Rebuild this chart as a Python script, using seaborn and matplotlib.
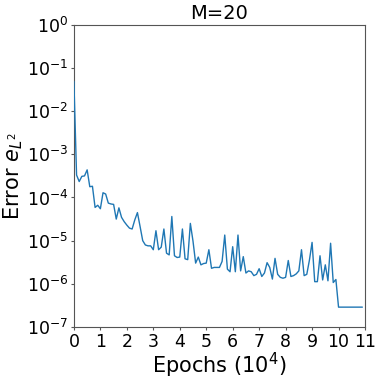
import numpy as np
import pandas as pd
import matplotlib
matplotlib.use("Agg")
import matplotlib.pyplot as plt
import seaborn as sns
from matplotlib.ticker import LogLocator, NullLocator

epochs = [round(0.1 * i, 1) for i in range(110)]
log_err = [
    -1.31, -3.48, -3.63, -3.51, -3.50, -3.36, -3.75, -3.74, -4.23, -4.18,
    -4.26, -3.89, -3.92, -4.13, -4.15, -4.16, -4.50, -4.24, -4.46, -4.56,
    -4.64, -4.71, -4.73, -4.52, -4.35, -4.67, -5.00, -5.10, -5.12, -5.12,
    -5.21, -4.77, -5.21, -5.15, -4.73, -5.29, -5.33, -4.44, -5.35, -5.39,
    -5.38, -4.73, -5.42, -5.44, -4.60, -5.01, -5.52, -5.38, -5.56, -5.53,
    -5.52, -5.21, -5.64, -5.62, -5.62, -5.62, -5.48, -4.87, -5.66, -5.72,
    -5.14, -5.72, -4.87, -5.70, -5.37, -5.75, -5.70, -5.72, -5.81, -5.78,
    -5.65, -5.83, -5.75, -5.51, -5.62, -5.89, -5.41, -5.78, -5.85, -5.87,
    -5.85, -5.46, -5.83, -5.81, -5.77, -5.70, -5.21, -5.81, -5.78, -5.45,
    -5.04, -5.95, -5.95, -5.35, -5.91, -5.56, -5.93, -5.06, -5.97, -5.90,
    -6.54, -6.54, -6.54, -6.54, -6.54, -6.54, -6.54, -6.54, -6.54, -6.54,
]
error = [10 ** v for v in log_err]
xticks = list(range(12))

sns.set_theme(style="ticks")
plt.rcParams['font.family'] = ['DejaVu Sans']
plt.rcParams['text.color'] = 'black'
plt.rcParams['axes.labelcolor'] = 'black'
plt.rcParams['xtick.color'] = 'black'
plt.rcParams['ytick.color'] = 'black'

df = pd.DataFrame({"epoch": epochs, "error": error})

fig = plt.figure(figsize=(3.81, 3.82), dpi=100)
ax = fig.add_axes([0.194, 0.144, 0.764, 0.791])
sns.lineplot(data=df, x="epoch", y="error", ax=ax, color="#1f77b4", linewidth=1.0, zorder=3)
ax.set_yscale("log")
ax.set_xlim(0, 11)
ax.set_ylim(1e-7, 1e0)
ax.set_xticks(xticks)
ax.set_xticklabels([str(t) for t in xticks])
ax.yaxis.set_major_locator(LogLocator(base=10, numticks=10))
ax.yaxis.set_minor_locator(NullLocator())
ax.tick_params(axis="both", labelsize=12.5, length=2.5, width=0.8, pad=1.5)
ax.tick_params(axis="both", color="#555555")
for s in ax.spines.values():
    s.set_color("#555555")
    s.set_linewidth(0.8)
ax.set_xlabel("Epochs ($10^4$)", fontsize=15, labelpad=0)
ax.set_ylabel("Error $e_{L^2}$", fontsize=15, labelpad=1)
ax.set_title("M=20", fontsize=14, pad=4)
ax.grid(False)

fig.savefig("out.png", dpi=100)
